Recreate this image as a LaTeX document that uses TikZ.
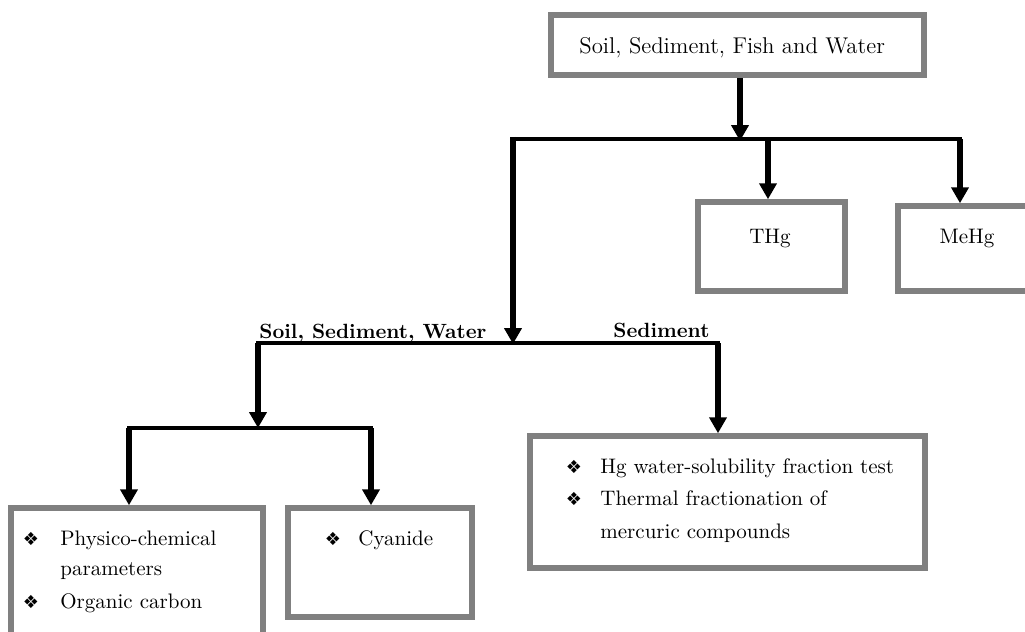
\documentclass[tikz,border=0pt]{standalone}
\usepackage{fontspec}
\usetikzlibrary{arrows.meta}
\newfontfamily\symfont{DejaVu Sans}
\definecolor{boxgray}{HTML}{808080}
\newcommand{\dmd}{{\symfont\fontsize{9}{9}\selectfont ❖}}
\tikzset{
  box/.style={draw=boxgray, line width=2.75pt, fill=white, inner sep=0pt},
  txt/.style={inner sep=0pt, font=\fontsize{10.5}{12}\selectfont},
  toptxt/.style={inner sep=0pt, font=\fontsize{11.4}{13}\selectfont},
  lab/.style={inner sep=0pt, font=\fontsize{10.3}{12}\selectfont\bfseries},
  hline/.style={line width=2.2pt, black},
  varrow/.style={line width=2.75pt, black, -{Triangle[width=8.5pt,length=8pt]}},
}
\begin{document}
\begin{tikzpicture}[x=0.5pt,y=-0.5pt]
\useasboundingbox (0,0) rectangle (1025,632);
\clip (0,0) rectangle (1025,632);

% boxes
\node[box, minimum width=186.5pt, minimum height=30pt] (top) at (737.5,45) {};
\node[box, minimum width=73.5pt, minimum height=44.5pt] (thg) at (771.5,246.5) {};
\node[box, minimum width=71pt, minimum height=42.5pt] (mehg) at (969,248.5) {};
\node[box, minimum width=197.5pt, minimum height=66pt] (sed) at (727.5,502) {};
\node[box, minimum width=126pt, minimum height=76pt] (phys) at (137,584) {};
\node[box, minimum width=92pt, minimum height=54.5pt] (cyan) at (380,562.5) {};

% box texts
\node[toptxt, anchor=base west] (toplbl) at (579,53) {Soil, Sediment, Fish and Water};
\node[txt, anchor=base] (thglbl) at (770,243) {THg};
\node[txt, anchor=base] (mehglbl) at (967,243) {MeHg};

\node[txt, anchor=base] (b1) at (574,473) {\dmd};
\node[txt, anchor=base west] (s1) at (600,473) {Hg water-solubility fraction test};
\node[txt, anchor=base] (b2) at (574,505) {\dmd};
\node[txt, anchor=base west] (s2) at (600,505) {Thermal fractionation of};
\node[txt, anchor=base west] (s3) at (600,538) {mercuric compounds};

\node[txt, anchor=base] (b3) at (31,545) {\dmd};
\node[txt, anchor=base west] (p1) at (60,545) {Physico-chemical};
\node[txt, anchor=base west] (p2) at (60,575) {parameters};
\node[txt, anchor=base] (b4) at (31,608) {\dmd};
\node[txt, anchor=base west] (p3) at (60,608) {Organic carbon};

\node[txt, anchor=base] (b5) at (333,545) {\dmd};
\node[txt, anchor=base west] (c1) at (358,545) {Cyanide};

% branch labels
\node[lab, anchor=base west] (lsw) at (259,338) {Soil, Sediment, Water};
\node[lab, anchor=base west] (lsed) at (613,337) {Sediment};

% junction points
\coordinate (j1) at (740,141);
\coordinate (jL) at (513,139);
\coordinate (jT) at (768,139);
\coordinate (jR) at (960,139);
\coordinate (j2) at (513,344);
\coordinate (jA) at (258,343);
\coordinate (jB) at (718,343);
\coordinate (jC) at (258,428);
\coordinate (jD) at (129,428);
\coordinate (jE) at (371,428);

% connectors
\draw[varrow] (top.south -| j1) -- (j1);
\draw[hline, line cap=rect] (jL) -- (jR);
\draw[varrow] (jT) -- (jT |- thg.north);
\draw[varrow] (jR) -- (jR |- mehg.north);
\draw[varrow] ([yshift=1.1pt]jL) -- (j2);
\draw[hline, line cap=rect] (jA) -- (jB);
\draw[varrow] (jB) -- (jB |- sed.north);
\draw[varrow] (jA) -- (jC);
\draw[hline, line cap=rect] (jD) -- (jE);
\draw[varrow] (jD) -- (jD |- phys.north);
\draw[varrow] (jE) -- (jE |- cyan.north);
\end{tikzpicture}
\end{document}
